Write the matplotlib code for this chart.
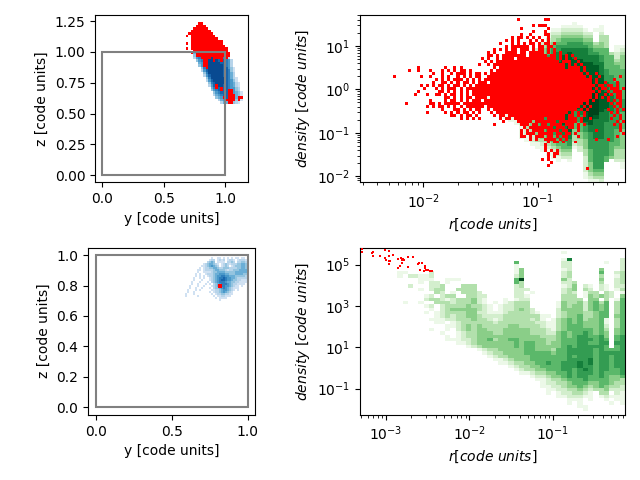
import numpy as np
import matplotlib
matplotlib.use("Agg")
import matplotlib.pyplot as plt
from matplotlib.colors import Normalize, ListedColormap
from matplotlib.patches import Rectangle

TR_XLIM = (-2.548, -0.243)
TR_YLIM = (-2.14, 1.71)
BR_XLIM = (-3.31, -0.136)
BR_YLIM = (-2.27, 5.83)

# bin levels: '.' empty, 1-9 rising count. Each row: first group index, then groups of ten bins.
green_top = [
"0","0",
"4 1",
"3 ........11 11...1",
"3 ......1122 221.11",
"3 .....12233 3322.2",
"3 .....13344 4433.33",
"3 .....23455 5544.33",
"3 ....234556 6655343",
"3 ....345666 6665443.11",
"3 ...2456677 7776555.12",
"3 ...3456778 7776655323",
"2 .......... ..34567788 7777765524",
"2 .......... ..34567788 8877765534",
"2 .......1.. .345677888 8888775544",
"2 .......12. 2345677888 8888875554",
"2 ......122. 2345677888 8888876555",
"2 ......1223 3456677888 8888876555",
"2 .....12233 3456677888 8888886655",
"2 .....12233 3456677888 8899886655",
"2 .....12234 4556677888 8899887665",
"2 .....12344 4566778888 8999887665",
"2 ....123344 4566778888 8999887665",
"2 ....123344 4566778888 8999988665",
"2 ....123344 4566778888 7899988765",
"2 ....123344 4566778888 7899988766",
"2 .....12344 4566778888 7899988766",
"2 .....12334 4556677888 6899988766",
"2 ......1233 3456677888 6799987766",
"2 ......1123 3456677788 6789977665",
"2 .......112 2345667788 6689877665",
"2 ........11 2345667788 5688777665",
"2 .........1 2345667788 5578776665",
"2 .......... 1345667778 5567776665",
"2 .......... 1234567778 4567776654",
"3 1234556677 4456776654",
"3 1123455667 3456776654",
"3 .123345566 3346666654",
"3 ..11234556 2346666554",
"3 ...1123455 1246666544",
"3 ....112344 .235666533",
"3 .....11233 ..35666533",
"3 ......1122 ..25665433",
"3 .......1.1 ..25665.22",
"3 .......... ..2466...1",
"3 .......... ..2466...1",
"3 .......... ..2455",
"3 .......... ..1344",
"3 .......... ..1233",
"3 .......... ...112",
]

green_bottom = [
"0",
"3 ........1.",
"0",
"3 ........17 .........2",
"2 .........5 ........22 ......1..2",
"2 .........1 ........22 .........2",
"2 .........1 4.......12 .....4...2",
"0 .......11. ...2...... .........1 4.......23 .....5..23",
"0 .......1.2 2112...... .........2 4.......23 .....3..13",
"1 .111..111. .........5 9.......42 .....4..23",
"1 .1.22.1... .........5 3.......22 3....3..23",
"0 .........2 ...223...3 33.......2 3.......12 4.21.21.22",
"1 .1.233..33 33.......2 22......23 4.32.21.13",
"1 ....32.1.3 332......2 2.1.....23 2.133.32.1",
"1 ..12.233.. 3322.....2 21......33 3.143432.4",
"1 ..23321233 3421...1.1 22......33 33.44.3.15",
"0 ........1. .1..333233 3421.1.123 33.....143 3424535.35",
"1 ..12.23333 43321.1223 33.....143 4424545.35",
"1 ...1.23444 44321.1223 432....244 4424545.35",
"1 ..1.123333 4422111233 3321...234 4433455.35",
"1 ....123233 4432222333 333311.234 4533455.45",
"1 ...1112233 3433212333 33231.1345 4534451.35",
"1 ....11.123 3333323333 3332211345 4544451.35",
"1 ......1123 4343333344 3333211345 5544452.35",
"1 ...1..1.23 4344333444 4433321345 5555453.45",
"1 .....1..12 3344433444 4433322454 5565454.45",
"1 ......1.12 3344444444 4444333454 5665564.56",
"1 ......1112 2344534455 4444433455 5666565.56",
"1 ........11 2344444445 4554434455 5665566.66",
"2 1234444445 4554444456 5666665.56",
"2 ..12334444 4554443556 6666565556",
"2 ...1233444 4555554556 6666566666",
"2 ....123344 4455555556 5666566566",
"2 .....11234 4455555556 6667566566",
"2 ......1123 3445565566 6767566566",
"2 ........12 3344555566 6766566566",
"2 .........1 2334455566 5676566556",
"3 1123344556 5666565556",
"3 ..12234456 5665565445",
"3 ...1123345 5565555443",
"3 ....122334 5554455433",
"3 ....112234 4543454332",
"3 .....11223 3432334222",
"3 .....1.122 3321.33.21",
"3 .......112 2211.12111",
"3 .........1 11.1..1.11",
"3 .........1 .1.....1.1",
"4 .11",
"4 ..1",
"0",
]

# occupied cells of the red sample in the r-density plane
red_top = [
"0",
"5 ..#....... .##",
"0",
"5 .......#.# ##",
"5 ...#...... ..#",
"5 .......#.. .#",
"5 ...#..#... .##",
"5 #.##.#.#.# ..#",
"4 ........#. #.#...#.#. #.#",
"4 ......#... #.#.#.##.# .##.#",
"4 ........#. ######.#.# #.##",
"4 ....#.#.#. ##.###.#.# #.#.#",
"4 ..#.#...## ##.##.#### #.#.#.#",
"4 ..##.#.### #####.#### ##.##.#.#. #",
"4 #.#..#.### #.######## #####.#.#. .#",
"4 .#.#.##### ########## ######.### ..#",
"3 .........# ..#.###### ########## ########.# .#.#",
"1 .........# ........#. .#.#...... ....#.#### ########## ########.# ###.#",
"1 ......#..# ...#...#.# .#.##.#... ...#.##### ########## ########## ###.#",
"1 .......... ....#..#.. #.###.#.## .#.####### ########## ########## ####.#..#",
"1 .#........ #..#...#.# ..#.#.#.## ..######## ########## ########## #####.#..# ......#",
"1 .......... .....#.#.# .###.#.#.# .######### ########## ########## #######.#. ....#",
"2 ....#..##. #.#.##.#.# ##.####### ########## ########## #######.#. .#...#",
"2 #.#.#.##.# .##.#.#.## ########## ########## ########## ########.# #.##.#",
"2 .#...#.#.# ##.#.##### ########## ########## ########## #######.#. ##.###.#",
"1 .........# ......##.# .#.#.#.### ########## ########## ########## ########.# ..#.###.#",
"1 ........#. ..#..##.#. ##.#.#.### ########## ########## ########## #######.#. .#.#.##",
"2 ........## .#.#.##.## ##.####### ########## ########## #######.#. #.#..##.#",
"2 ...#....#. ##.#.#.### .######### ########## ########## ######.#.. ..#.#.#",
"1 .....#.... ...##.#.## ###.###### ########## ########## ########## ####.#.... ...#.##.",
"2 ..#.#.##.# .#.#.##### #.######## ########## ########## ###.#.#... ....#.#.#",
"2 .......#.. .##.#.#.## ..#.###### ########## ########## ##.#.#.... ..#..#.#",
"2 ..#.....#. #.#.##.#.# ...#.##### ########## #########. #.#.#..... ...#.#..#",
"3 ##.#.##.#. ....#.##.# ########## ########.# #.#.#..... ....#.#.#",
"3 ...#.#.#.# ......#.## .######### #.######.# ##.#..#... ...#..#.#",
"4 .......#.. ..#####.## #####.#### ##.#...... .....#.#.#",
"4 ....#..... ...###.##. ##.####.## #.#.#..... ....#.#..",
"5 ....#.#### ####.###.# #.#....... ......#.#",
"5 ...#.#.### #.####.##. ..#.....#. ......#..",
"5 ...#.###.# ####.##.## .#........ .......#.",
"5 ...##.#.## #.##.#.##. ..#....... .....#..",
"5 ......#.#. .####.#.#. ........#. ..#",
"6 ..#.##.#.. .#",
"6 .#",
"6 .#",
"6 .#.#.#",
"6 ..#.##",
"6 ..#.#",
"6 #.#",
"6 ...#",
"6 ..#",
"7 .....#",
"0","0","0","0",
]

red_bottom_logr = [-3.292, -3.292, -3.172, -3.156, -3.156, -3.072, -3.012, -2.964, -3.012, -2.964,
                   -2.916, -3.0, -2.964, -2.952, -2.964, -2.852, -2.82, -2.80, -2.808, -2.784,
                   -2.808, -2.832, -2.856, -2.736, -2.676, -2.736, -2.616, -2.604, -2.568, -2.532,
                   -2.532, -2.592, -2.544, -2.52, -2.496, -2.472, -2.448]
red_bottom_logd = [5.78, 5.60, 5.54, 5.60, 5.41, 5.41, 5.73, 5.68, 5.34, 5.44,
                   5.49, 5.21, 5.18, 5.18, 5.02, 5.29, 5.34, 5.29, 5.21, 5.21,
                   5.10, 4.95, 4.85, 5.39, 5.39, 4.90, 5.02, 5.07, 5.10, 4.95,
                   4.85, 4.76, 4.71, 4.76, 4.72, 4.71, 4.71]

# y-z projection grids
TL_Y0, TL_Z0, TL_CELL = 0.68, 1.24, 0.02
blue_top = [
"0","0","0","0","0","0","0","0","0","0","0","0",
"0 ...4566777 7776655",
"0 ...3567788 77877664",
"0 ...2567888 88877652",
"0 ....356888 888777652",
"0 .....45788 888877652",
"0 .....35688 888887652",
"0 ......3688 8888877531",
"0 ......2578 8888877631",
"0 .......368 8888877642",
"0 .......257 8888877642",
"0 ........36 8888887642 1",
"0 ........25 7888887653 1",
"0 .........3 6788887654 21",
"0 .........2 5778877654 21",
"0 .......... 4677777655 32",
"0 .......... 3567777655 32",
"0 .......... .356777655 431",
"0 .......... .245677655 431",
"0 .......... ..34567655 442",
"0 .......... ...2456544 321",
"0 .......... ....244333 21",
]
red_yz_top = [
"0 .....##",
"0 ....####",
"0 ...######",
"0 ..########",
"0 .######### #",
"0 #.######## ##",
"0 ..######## ###",
"0 ..######## #####",
"0 #.######## #####",
"0 ..######## ######",
"0 #.######## #######",
"0 ...####### #######",
"0 ..#.###### ########",
"0 ....###### ########",
"0 ......#### .####.#",
"0 .......##. .#..#",
"0 .......##",
"0 .......##",
"0 ........#",
"0","0","0","0","0","0",
"0 .......... ..#",
"0 .......... ..#.#",
"0 .......... ....#..##",
"0 .......... .......##",
"0 .......... .......###",
"0 .......... .....#.### .##",
"0 .......... ......#### .#",
"0 .......... .......##",
]

BL_Y0, BL_Z0, BL_CELL = 0.5855, 0.989, 0.01316
blue_bottom = [
"1 ...1..11.1 .1.1.11.11 .1",
"1 ..122.1212 .1221.1222 1",
"1 .2343.1111 .2232.2233 2",
"0 .........1 2344321.12 3212223344 3",
"0 ........11 2345432.12 32.1233344 3",
"0 .......1.1 2233443223 3322223344 3",
"0 ......11.1 2222344333 2122333444 4",
"0 ......1..1 1112334444 3333344444 4",
"0 .....1.1.. 1222344555 4433344443 3",
"0 .....1.1.1 .122345566 5544433333 2",
"0 ....1..1.1 ..12345667 6554432222 2",
"0 ....1...1. ..12345677 6554332211 1",
"0 ...1...1.. .1.2345666 5443322111 1",
"0 ...1..1... 1.1.234566 6543221111",
"0 ..1...1..1 ...1234566 5543211.1",
"0 ..1..1..1. ..1.233456 5432111",
"0 .1...1.1.. ...1122345 54321.1",
"0 .1..1..... ..1.122345 4321",
"0 1...1..... ...1.12233 2211",
"0 1.....1... ....1.1122 111",
"0 .......... .....1.111 1",
"0 .......... .......1",
]
red_bl_y = [0.813, 0.82, 0.827, 0.813, 0.82, 0.827]
red_bl_z = [0.803, 0.803, 0.803, 0.793, 0.793, 0.793]


def expand(rows, ncols):
    out = []
    for row in rows:
        tok = row.split()
        s = "." * (10 * int(tok[0])) + "".join(t.ljust(10, ".")[:10] for t in tok[1:])
        out.append(s.ljust(ncols, ".")[:ncols])
    return out


def levels(rows, ncols):
    txt = expand(rows, ncols)
    a = np.array([[0 if ch == "." else int(ch) for ch in r] for r in txt], float)
    return np.ma.masked_equal(a, 0)


def occupied(rows, ncols):
    txt = expand(rows, ncols)
    a = np.array([[1.0 if ch == "#" else 0.0 for ch in r] for r in txt])
    return np.ma.masked_equal(a, 0)


green_norm = Normalize(0.333, 8.667)
blue_norm = Normalize(-1, 9)
red_cmap = ListedColormap(["red"])

fig, axs = plt.subplots(2, 2)
ax_tl, ax_tr = axs[0]
ax_bl, ax_br = axs[1]

# top left
xe = TL_Y0 + TL_CELL * np.arange(25)
ze = TL_Z0 - TL_CELL * np.arange(len(blue_top) + 1)
ax_tl.pcolormesh(xe, ze, levels(blue_top, 24), cmap="Blues", norm=blue_norm)
ze = TL_Z0 - TL_CELL * np.arange(len(red_yz_top) + 1)
ax_tl.pcolormesh(xe, ze, occupied(red_yz_top, 24), cmap=red_cmap, zorder=3)
ax_tl.add_patch(Rectangle((0, 0), 1, 1, fill=False, ec="gray", lw=1.5, zorder=4))
ax_tl.set_xlim(-0.057, 1.187)
ax_tl.set_ylim(-0.057, 1.30)
ax_tl.set_aspect("equal")
ax_tl.set_yticks([0, .25, .5, .75, 1, 1.25])
ax_tl.set_xticks([0, .5, 1])
ax_tl.set_xlabel("y [code units]")
ax_tl.set_ylabel("z [code units]")

# bottom left
xe = BL_Y0 + BL_CELL * np.arange(32)
ze = BL_Z0 - BL_CELL * np.arange(len(blue_bottom) + 1)
ax_bl.pcolormesh(xe, ze, levels(blue_bottom, 31), cmap="Blues", norm=blue_norm)
ax_bl.add_patch(Rectangle((0, 0), 1, 1, fill=False, ec="gray", lw=1.5, zorder=2))
ax_bl.scatter(red_bl_y, red_bl_z, s=3.5, marker="s", color="red", linewidths=0, zorder=3)
ax_bl.set_xlim(-0.05, 1.05)
ax_bl.set_ylim(-0.05, 1.05)
ax_bl.set_aspect("equal")
ax_bl.set_xticks([0, .5, 1])
ax_bl.set_xlabel("y [code units]")
ax_bl.set_ylabel("z [code units]")

# top right
xe = np.logspace(*TR_XLIM, 51)
ye = np.logspace(TR_YLIM[1], TR_YLIM[0], 51)
ax_tr.pcolormesh(xe, ye, levels(green_top, 50), cmap="Greens", norm=green_norm)
xe = np.logspace(*TR_XLIM, 89)
ye = np.logspace(TR_YLIM[1], TR_YLIM[0], len(red_top) + 1)
ax_tr.pcolormesh(xe, ye, occupied(red_top, 88), cmap=red_cmap, zorder=3)
ax_tr.set_xscale("log")
ax_tr.set_yscale("log")
ax_tr.set_xlim(10 ** TR_XLIM[0], 10 ** TR_XLIM[1])
ax_tr.set_ylim(10 ** TR_YLIM[0], 10 ** TR_YLIM[1])
ax_tr.set_xlabel(r"$r [code\ units]$")
ax_tr.set_ylabel(r"$density\ [code\ units]$")

# bottom right
xe = np.logspace(*BR_XLIM, 51)
ye = np.logspace(BR_YLIM[1], BR_YLIM[0], 51)
ax_br.pcolormesh(xe, ye, levels(green_bottom, 50), cmap="Greens", norm=green_norm)
ax_br.scatter(10 ** np.array(red_bottom_logr), 10 ** np.array(red_bottom_logd), s=4.5, marker="s",
              color="red", linewidths=0, zorder=3)
ax_br.set_xscale("log")
ax_br.set_yscale("log")
ax_br.set_xlim(10 ** BR_XLIM[0], 10 ** BR_XLIM[1])
ax_br.set_ylim(10 ** BR_YLIM[0], 10 ** BR_YLIM[1])
ax_br.set_xlabel(r"$r [code\ units]$")
ax_br.set_ylabel(r"$density\ [code\ units]$")

fig.tight_layout()
fig.savefig("out.png", dpi=100)
